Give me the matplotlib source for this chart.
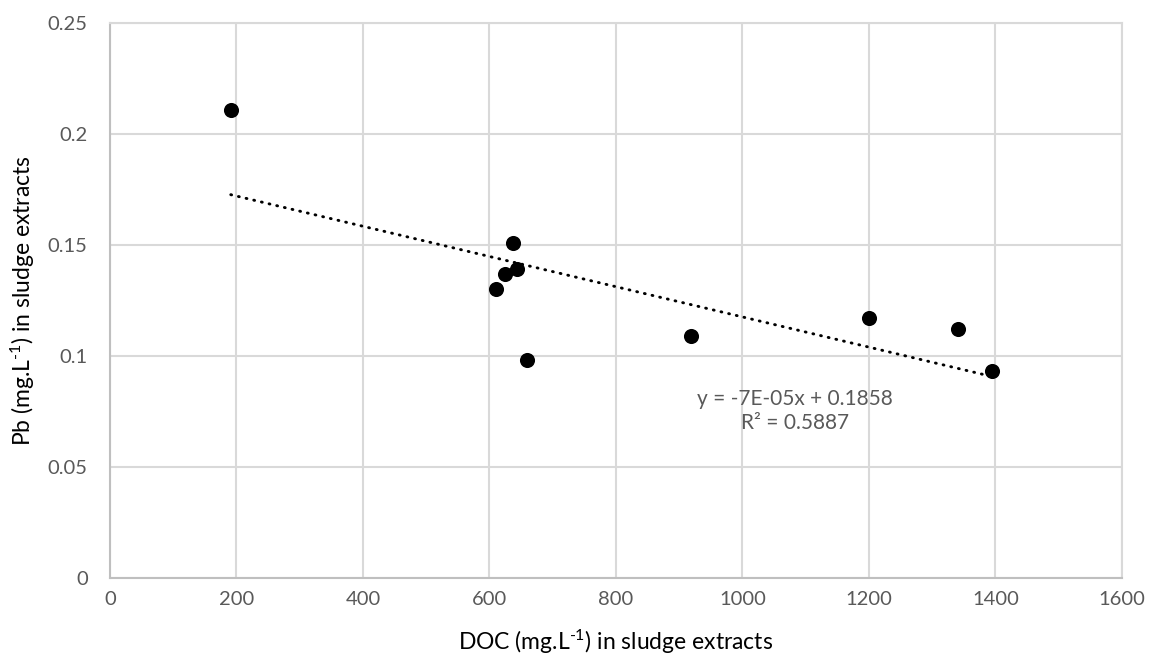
import matplotlib
matplotlib.use("Agg")
import matplotlib.pyplot as plt
import numpy as np

plt.rcParams['font.family'] = ['Lato', 'DejaVu Sans']
plt.rcParams['mathtext.fontset'] = 'custom'
plt.rcParams['mathtext.rm'] = 'Lato'
plt.rcParams['mathtext.default'] = 'regular'

# data
doc = [191, 610, 625, 637, 643, 659, 918, 1200, 1341, 1394]
pb = [0.211, 0.130, 0.137, 0.151, 0.139, 0.098, 0.109, 0.117, 0.112, 0.093]
eq_text = "y = -7E-05x + 0.1858\nR² = 0.5887"

x_ticks = [0, 200, 400, 600, 800, 1000, 1200, 1400, 1600]
y_ticks = [0, 0.05, 0.1, 0.15, 0.2, 0.25]
y_tick_labels = ['0', '0.05', '0.1', '0.15', '0.2', '0.25']

grid_col = '#d9d9d9'
txt_col = '#595959'

fig = plt.figure(figsize=(11.55, 6.62), dpi=100)
ax = fig.add_axes([0.0952, 0.1276, 0.8762, 0.8372])

# linear trend line
slope, icpt = np.polyfit(doc, pb, 1)
xs = np.array([min(doc), max(doc)])
ax.plot(xs, slope * xs + icpt, color='black', lw=2.1,
        linestyle=(0, (0.3, 2.4)), dash_capstyle='round', zorder=3)

ax.scatter(doc, pb, s=118, color='black', zorder=4, linewidths=0)

ax.set_xlim(0, 1600)
ax.set_ylim(0, 0.25)
ax.set_xticks(x_ticks)
ax.set_yticks(y_ticks)
ax.set_yticklabels(y_tick_labels)
ax.grid(True, color=grid_col, lw=1.5, zorder=0)
ax.set_axisbelow(True)
ax.tick_params(length=0, labelsize=14.5, labelcolor=txt_col)
ax.tick_params(axis='x', pad=10)
ax.tick_params(axis='y', pad=16)

for side in ['top', 'right']:
    ax.spines[side].set_color(grid_col)
    ax.spines[side].set_linewidth(1.5)
for side in ['left', 'bottom']:
    ax.spines[side].set_color('#bfbfbf')
    ax.spines[side].set_linewidth(1.5)

ax.set_xlabel(r'DOC (mg.L$^{\text{-}1}$) in sludge extracts', fontsize=16.5, labelpad=14)
ax.set_ylabel(r'Pb (mg.L$^{\text{-}1}$) in sludge extracts', fontsize=16.5, labelpad=8)

ax.text(0.677, 0.300, eq_text, transform=ax.transAxes, ha='center', va='center',
        fontsize=15, color=txt_col, linespacing=1.25)

fig.savefig('out.png', dpi=100)
